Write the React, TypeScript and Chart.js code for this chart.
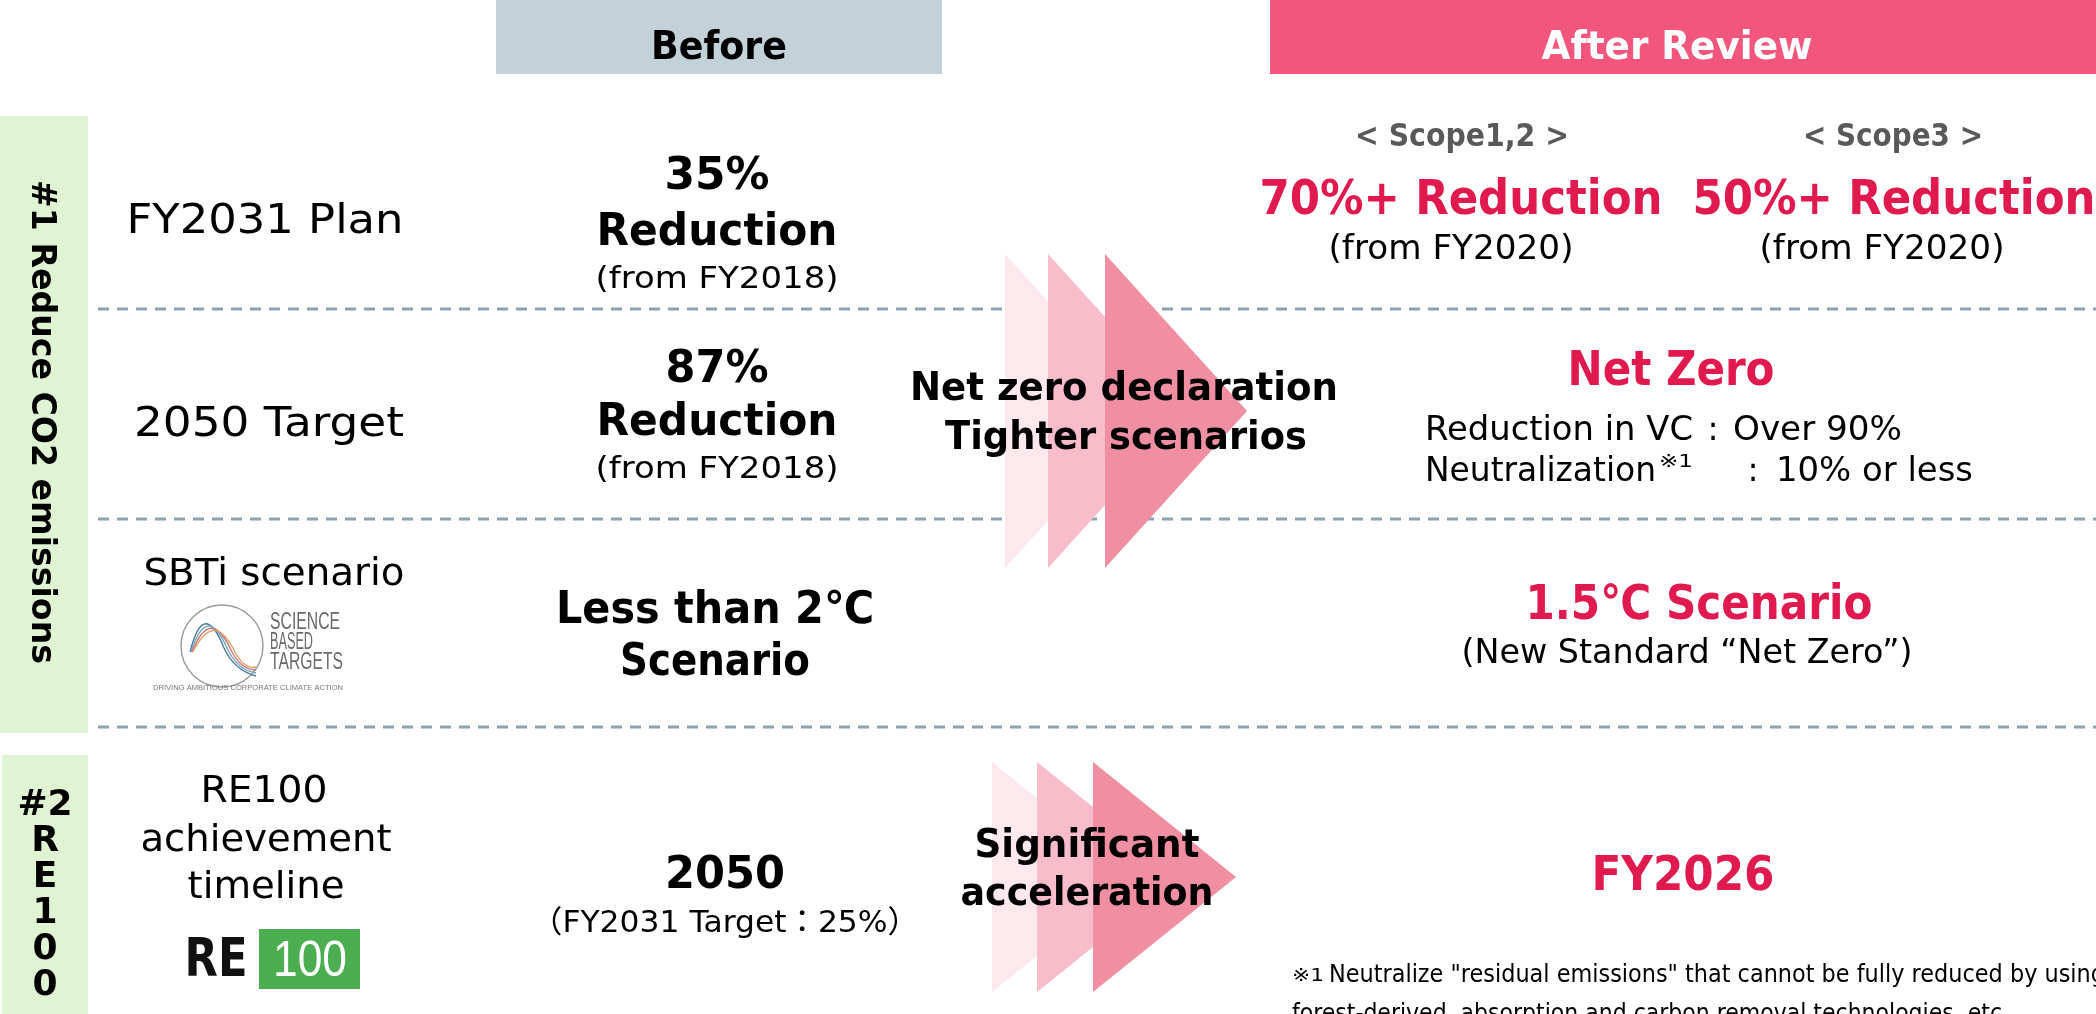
import React, { useEffect, useRef } from "react";
import { Chart, registerables } from "chart.js";

Chart.register(...registerables);

// ---------------- data ----------------
const columnHeaders = ["Before", "After Review"];
const themeLabels = ["#1 Reduce CO2 emissions", "#2", "R", "E", "1", "0", "0"];
const rowLabels = [["FY2031 Plan"], ["2050 Target"], ["SBTi scenario"], ["RE100", "achievement", "timeline"]];
const beforeMain = [["35%", "Reduction"], ["87%", "Reduction"], ["Less than 2℃", "Scenario"], ["2050"]];
const beforeNotes = ["(from FY2018)", "(from FY2018)", "", "（FY2031 Target：25%）"];
const scopeLabels = ["< Scope1,2 >", "< Scope3 >"];
const scopeTargets = ["70%+ Reduction", "50%+ Reduction"];
const scopeBases = ["(from FY2020)", "(from FY2020)"];
const afterMain = ["Net Zero", "1.5℃ Scenario", "FY2026"];
const netZeroItems = ["Reduction in VC", "Neutralization"];
const netZeroShares = ["Over 90%", "10% or less"];
const afterSub = "(New Standard “Net Zero”)";
const arrowCaptions = [["Net zero declaration", "Tighter scenarios"], ["Significant", "acceleration"]];
const footnoteMark = "※1";
const footnoteLines = [
  "Neutralize \"residual emissions\" that cannot be fully reduced by using",
  "forest-derived, absorption and carbon removal technologies, etc.",
];
const sbtWords = ["SCIENCE", "BASED", "TARGETS"];
const sbtTagline = "DRIVING AMBITIOUS CORPORATE CLIMATE ACTION";
const re100Logo = ["RE", "100"];

// ---------------- layout (design coordinates) ----------------
const W = 2096;
const H = 1014;
const FONT = "'DejaVu Sans', 'Noto Sans CJK JP', sans-serif";
const CRIMSON = "#E0194F";

const headerBoxes = [
  { x0: 496, x1: 942, y0: 0, y1: 74, fill: "#C3D1D9", color: "#000", cx: 719, w: 136 },
  { x0: 1270, x1: 2096, y0: 0, y1: 74, fill: "#F3567C", color: "#fff", cx: 1677, w: 271 },
];
const greenBoxes = [
  { x0: 0, x1: 88, y0: 116, y1: 733 },
  { x0: 2, x1: 88, y0: 755, y1: 1014 },
];
const dashY = [309, 519, 727];
const rowLabelLayout = [
  [{ x: 265, y: 219, s: 40, w: 277 }],
  [{ x: 269, y: 422, s: 40, w: 270 }],
  [{ x: 274, y: 572, s: 37, w: 261 }],
  [
    { x: 264, y: 788, s: 38, w: 127 },
    { x: 266, y: 837, s: 38, w: 251 },
    { x: 266, y: 884, s: 38, w: 157 },
  ],
];
const beforeMainLayout = [
  [{ x: 717, y: 173, w: 105 }, { x: 717, y: 229, w: 241 }],
  [{ x: 717, y: 366, w: 103 }, { x: 717, y: 419, w: 241 }],
  [{ x: 715, y: 607, w: 318 }, { x: 715, y: 659, w: 190 }],
  [{ x: 725, y: 872, w: 120 }],
];
const beforeNoteLayout = [
  { x: 717, y: 277, w: 243 },
  { x: 717, y: 467, w: 243 },
  { x: 0, y: 0, w: 0 },
  { x: 725, y: 921, w: 388 },
];
const arrowGroups = [
  { lefts: [1005, 1048, 1105], top: 254, bottom: 568, width: 142 },
  { lefts: [992, 1037, 1093], top: 762, bottom: 992, width: 143 },
];
const arrowColors = ["#FDE8EE", "#F8BCCB", "#F08EA2"];
const arrowCaptionLayout = [
  [{ x: 1124, y: 386, w: 428 }, { x: 1126, y: 435, w: 362 }],
  [{ x: 1087, y: 843, w: 225 }, { x: 1087, y: 891, w: 253 }],
];

// ---------------- drawing helpers ----------------
function drawText(
  ctx: CanvasRenderingContext2D,
  text: string,
  x: number,
  y: number,
  size: number,
  opts: { bold?: boolean; color?: string; align?: CanvasTextAlign; w?: number; family?: string; weight?: string } = {}
) {
  const weight = opts.weight || (opts.bold ? "bold" : "normal");
  ctx.font = `${weight} ${size}px ${opts.family || FONT}`;
  ctx.fillStyle = opts.color || "#000";
  ctx.textAlign = opts.align || "center";
  ctx.textBaseline = "alphabetic";
  const by = y + size * 0.36;
  if (opts.w) {
    const m = ctx.measureText(text).width;
    const sx = m > 0 ? opts.w / m : 1;
    ctx.save();
    ctx.translate(x, by);
    ctx.scale(sx, 1);
    ctx.fillText(text, 0, 0);
    ctx.restore();
  } else {
    ctx.fillText(text, x, by);
  }
}

const infographicPlugin = {
  id: "infographic",
  beforeDraw(chart: any) {
    const ctx: CanvasRenderingContext2D = chart.ctx;
    const xs = chart.scales.x;
    const ys = chart.scales.y;
    const px = (v: number) => xs.getPixelForValue(v);
    const py = (v: number) => ys.getPixelForValue(v);
    const T = (t: string, x: number, y: number, s: number, o: any = {}) =>
      drawText(ctx, t, px(x), py(y), s, { ...o, w: o.w ? px(o.w) - px(0) : undefined });

    ctx.save();
    ctx.fillStyle = "#fff";
    ctx.fillRect(0, 0, chart.width, chart.height);

    // header boxes
    headerBoxes.forEach((b, i) => {
      ctx.fillStyle = b.fill;
      ctx.fillRect(px(b.x0), py(b.y0), px(b.x1) - px(b.x0), py(b.y1) - py(b.y0));
      T(columnHeaders[i], b.cx, 45, 39, { bold: true, color: b.color, w: b.w });
    });

    // green theme boxes
    greenBoxes.forEach((b) => {
      ctx.fillStyle = "#DFF4D3";
      ctx.fillRect(px(b.x0), py(b.y0), px(b.x1) - px(b.x0), py(b.y1) - py(b.y0));
    });
    ctx.save();
    ctx.translate(px(44), py(422));
    ctx.rotate(Math.PI / 2);
    drawText(ctx, themeLabels[0], 0, 0, 34, { bold: true, w: 484 });
    ctx.restore();
    themeLabels.slice(1).forEach((t, i) => {
      T(t, 45, 802 + 36 * i, 36, { bold: true });
    });

    // dashed separators
    ctx.save();
    ctx.strokeStyle = "#8DA2B0";
    ctx.lineWidth = 3;
    ctx.setLineDash([11, 8]);
    dashY.forEach((yy) => {
      ctx.beginPath();
      ctx.moveTo(px(98), py(yy));
      ctx.lineTo(px(W), py(yy));
      ctx.stroke();
    });
    ctx.restore();

    // arrows
    arrowGroups.forEach((g) => {
      g.lefts.forEach((l, i) => {
        ctx.fillStyle = arrowColors[i];
        ctx.beginPath();
        ctx.moveTo(px(l), py(g.top));
        ctx.lineTo(px(l + g.width), py((g.top + g.bottom) / 2));
        ctx.lineTo(px(l), py(g.bottom));
        ctx.closePath();
        ctx.fill();
      });
    });

    // row labels
    rowLabels.forEach((lines, r) => {
      lines.forEach((t, k) => {
        const L = rowLabelLayout[r][k];
        T(t, L.x, L.y, L.s, { w: L.w });
      });
    });

    // SBT logo
    ctx.save();
    ctx.strokeStyle = "#9a9a9a";
    ctx.lineWidth = 1.4;
    ctx.beginPath();
    ctx.arc(px(222), py(646), 41, 0, Math.PI * 2);
    ctx.stroke();
    const curveColors = ["#4A72A8", "#6FA9B8", "#C9707A", "#E0A060"];
    curveColors.forEach((c, i) => {
      const d = i * 3;
      ctx.strokeStyle = c;
      ctx.lineWidth = 1.3;
      ctx.beginPath();
      ctx.moveTo(px(190 + d * 0.3), py(652));
      ctx.bezierCurveTo(px(200 + d), py(612 + d), px(212 + d), py(618 + d), px(224 + d), py(648));
      ctx.quadraticCurveTo(px(234 + d), py(670), px(256), py(676 - d));
      ctx.stroke();
    });
    ctx.restore();
    sbtWords.forEach((t, i) => {
      T(t, 270, 621 + 20 * i, 23, { align: "left", color: "#6a6a6a", w: [70, 43, 73][i], family: "'Liberation Sans', sans-serif" });
    });
    T(sbtTagline, 248, 687, 7, { color: "#777", w: 190, family: "'Liberation Sans', sans-serif" });

    // RE100 logo
    T(re100Logo[0], 216, 957, 54, { weight: "900", color: "#111", w: 63, family: FONT });
    ctx.fillStyle = "#4BAE50";
    ctx.fillRect(px(259), py(929), px(360) - px(259), py(989) - py(929));
    T(re100Logo[1], 310, 958, 50, { color: "#fff", w: 74, family: "'Liberation Sans', sans-serif" });

    // before column
    beforeMain.forEach((lines, r) => {
      lines.forEach((t, k) => {
        const L = beforeMainLayout[r][k];
        T(t, L.x, L.y, 45, { bold: true, w: L.w });
      });
      if (beforeNotes[r]) {
        const N = beforeNoteLayout[r];
        T(beforeNotes[r], N.x, N.y, 31, { w: N.w });
      }
    });

    // arrow captions
    arrowCaptions.forEach((lines, g) => {
      lines.forEach((t, k) => {
        const L = arrowCaptionLayout[g][k];
        T(t, L.x, L.y, 39, { bold: true, w: L.w });
      });
    });

    // after column: scopes
    const scopeX = [1462, 1893];
    const scopeW = [214, 180];
    const targetX = [1461, 1894];
    const baseX = [1451, 1882];
    scopeLabels.forEach((t, i) => {
      T(t, scopeX[i], 134, 32, { bold: true, color: "#595959", w: scopeW[i] });
      T(scopeTargets[i], targetX[i], 197, 48, { bold: true, color: CRIMSON, w: 403 });
      T(scopeBases[i], baseX[i], 247, 33, { w: 245 });
    });

    // net zero
    T(afterMain[0], 1671, 368, 48, { bold: true, color: CRIMSON, w: 207 });
    T(netZeroItems[0], 1425, 428, 33, { align: "left", w: 268 });
    T(":", 1713, 428, 33);
    T(netZeroShares[0], 1733, 428, 33, { align: "left", w: 169 });
    T(netZeroItems[1], 1425, 469, 33, { align: "left", w: 231 });
    T(footnoteMark, 1659, 461, 18, { align: "left", w: 34 });
    T(":", 1753, 469, 33);
    T(netZeroShares[1], 1776, 469, 33, { align: "left", w: 197 });

    // 1.5C scenario
    T(afterMain[1], 1699, 602, 48, { bold: true, color: CRIMSON, w: 347 });
    T(afterSub, 1687, 651, 33, { w: 451 });

    // RE100 after
    T(afterMain[2], 1683, 873, 48, { bold: true, color: CRIMSON, w: 183 });

    // footnote
    T(footnoteMark, 1292, 975, 18, { align: "left", w: 32 });
    T(footnoteLines[0], 1329, 973, 25, { align: "left", w: 776 });
    T(footnoteLines[1], 1292, 1012, 25, { align: "left", w: 717 });

    ctx.restore();
  },
};

export default function App() {
  const ref = useRef<HTMLCanvasElement>(null);
  useEffect(() => {
    if (!ref.current) return;
    const chart = new Chart(ref.current, {
      type: "scatter",
      data: { datasets: [] },
      options: {
        animation: false,
        responsive: true,
        maintainAspectRatio: false,
        layout: { padding: 0 },
        plugins: { legend: { display: false }, tooltip: { enabled: false } },
        scales: {
          x: { type: "linear", min: 0, max: W, display: false },
          y: { type: "linear", min: 0, max: H, reverse: true, display: false },
        },
      },
      plugins: [infographicPlugin],
    } as any);
    return () => chart.destroy();
  }, []);
  return (
    <div style={{ position: "fixed", left: 0, top: 0, width: W, height: H, background: "#fff" }}>
      <canvas ref={ref} />
    </div>
  );
}
